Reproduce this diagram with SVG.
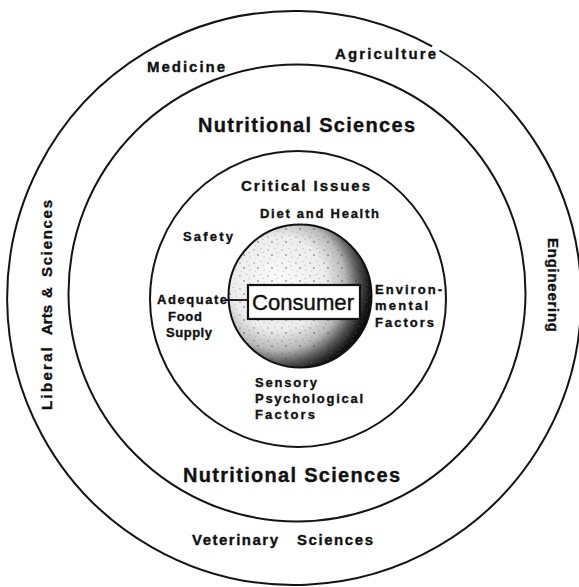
<svg xmlns="http://www.w3.org/2000/svg" width="579" height="587" viewBox="0 0 579 587">
  <style>
    .ring { fill: none; stroke: #141414; stroke-width: 2; }
    .lbl { font-family: "Liberation Sans", Arial, sans-serif; font-weight: bold; fill: #111; stroke: #111; stroke-width: 0.35; }
    .big { font-size: 20px; }
    .mid { font-size: 15px; }
    .sm { font-size: 13px; }
    .cons { font-family: "Liberation Sans", Arial, sans-serif; font-size: 22px; fill: #111; stroke: #111; stroke-width: 0.4; }
    .conn { stroke: #111; stroke-width: 1.8; fill: none; }
  </style>
  <defs>
    <radialGradient id="sphere" cx="0.36" cy="0.42" r="0.66" fx="0.34" fy="0.40">
      <stop offset="0" stop-color="#fbfbfb"/>
      <stop offset="0.5" stop-color="#ececec"/>
      <stop offset="0.7" stop-color="#b8b8b8"/>
      <stop offset="0.84" stop-color="#555"/>
      <stop offset="0.95" stop-color="#151515"/>
      <stop offset="1" stop-color="#0a0a0a"/>
    </radialGradient>
    <pattern id="stipple" width="14" height="13" patternUnits="userSpaceOnUse">
      <circle cx="2" cy="3" r="0.8" fill="#555"/>
      <circle cx="9" cy="1.5" r="0.6" fill="#777"/>
      <circle cx="6" cy="8" r="0.9" fill="#444"/>
      <circle cx="12" cy="10" r="0.6" fill="#666"/>
      <circle cx="3.5" cy="11.5" r="0.5" fill="#888"/>
      <circle cx="11" cy="5.5" r="0.5" fill="#555"/>
    </pattern>
  </defs>

  <g id="ring-outer">
    <path class="ring" d="M439.5,50.5 A287,287 0 1 1 432.1,46.3"/>
  </g>
  <g id="ring-nutritional">
    <circle class="ring" cx="297" cy="293" r="228.5"/>
  </g>
  <g id="ring-critical">
    <circle class="ring" cx="298" cy="299" r="148"/>
  </g>

  <g id="consumer">
    <circle cx="300" cy="296" r="71.5" fill="url(#sphere)"/>
    <circle cx="300" cy="296" r="71.5" fill="url(#stipple)" opacity="0.55"/>
    <circle cx="300" cy="296" r="71.5" fill="none" stroke="#111" stroke-width="2"/>
    <rect x="248" y="285" width="112" height="34" fill="#fff" stroke="#111" stroke-width="2.2"/>
    <text class="cons" x="252" y="309.5" textLength="102" lengthAdjust="spacingAndGlyphs">Consumer</text>
  </g>

  <g id="connectors">
    <line class="conn" x1="226" y1="300" x2="248" y2="300"/>
  </g>

  <g id="label-medicine">
    <text class="lbl mid" x="147" y="72" textLength="78">Medicine</text>
  </g>
  <g id="label-agriculture">
    <text class="lbl mid" x="335" y="59" textLength="101">Agriculture</text>
  </g>
  <g id="label-nutritional-top">
    <text class="lbl big" x="198" y="132" textLength="217">Nutritional Sciences</text>
  </g>
  <g id="label-critical">
    <text class="lbl mid" x="241" y="191" textLength="129">Critical Issues</text>
  </g>
  <g id="label-diet">
    <text class="lbl sm" x="260" y="218" textLength="119">Diet and Health</text>
  </g>
  <g id="label-safety">
    <text class="lbl sm" x="183" y="241" textLength="50">Safety</text>
  </g>
  <g id="label-food">
    <text class="lbl sm" x="157" y="304" textLength="70">Adequate</text>
    <text class="lbl sm" x="168" y="321" textLength="34">Food</text>
    <text class="lbl sm" x="166" y="337" textLength="46">Supply</text>
  </g>
  <g id="label-environmental">
    <text class="lbl sm" x="375" y="294" textLength="67">Environ-</text>
    <text class="lbl sm" x="375" y="310" textLength="53">mental</text>
    <text class="lbl sm" x="375" y="327" textLength="59">Factors</text>
  </g>
  <g id="label-sensory">
    <text class="lbl sm" x="255" y="387" textLength="62">Sensory</text>
    <text class="lbl sm" x="255" y="403" textLength="108">Psychological</text>
    <text class="lbl sm" x="255" y="419" textLength="60">Factors</text>
  </g>
  <g id="label-nutritional-bottom">
    <text class="lbl big" x="183" y="482" textLength="217">Nutritional Sciences</text>
  </g>
  <g id="label-veterinary">
    <text class="lbl mid" y="545"><tspan x="192" textLength="86">Veterinary</tspan> <tspan x="297" textLength="76">Sciences</tspan></text>
  </g>
  <g id="label-liberal">
    <text class="lbl mid" transform="translate(52,410) rotate(-90)" y="0"><tspan x="0" textLength="63">Liberal</tspan> <tspan x="75" textLength="30">Arts</tspan> <tspan x="112">&amp;</tspan> <tspan x="133" textLength="77">Sciences</tspan></text>
  </g>
  <g id="label-engineering">
    <text class="lbl mid" transform="translate(548,238) rotate(90)" x="0" y="0" textLength="94">Engineering</text>
  </g>
</svg>
